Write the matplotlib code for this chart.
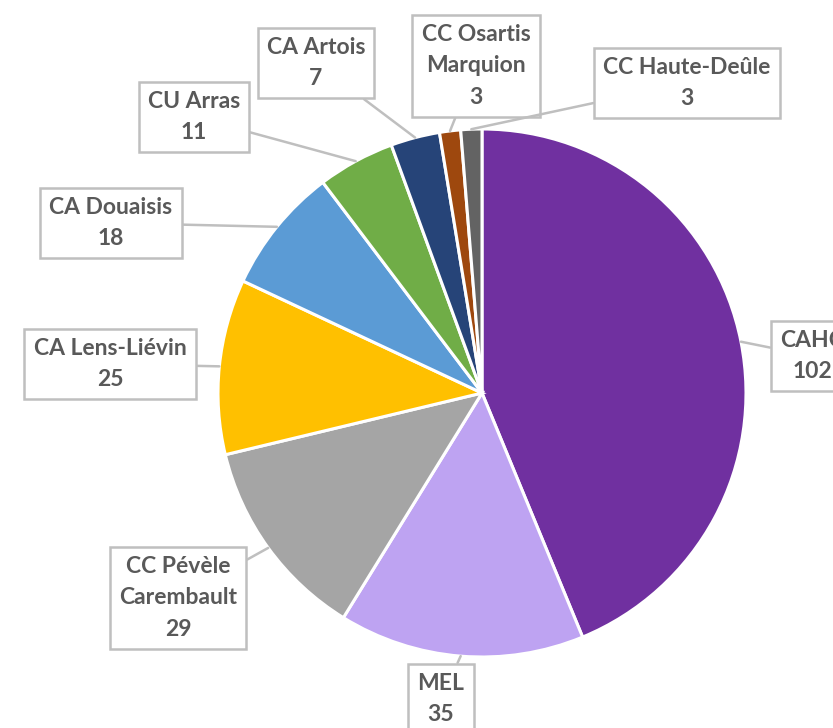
import numpy as np
import matplotlib
matplotlib.use("Agg")
import matplotlib.pyplot as plt

# données
labels = ["CAHC", "MEL", "CC Pévèle\nCarembault", "CA Lens-Liévin", "CA Douaisis",
          "CU Arras", "CA Artois", "CC Osartis\nMarquion", "CC Haute-Deûle"]
values = [102, 35, 29, 25, 18, 11, 7, 3, 3]
colors = ["#7030A0", "#BEA3F2", "#A5A5A5", "#FFC000", "#5B9BD5",
          "#70AD47", "#264478", "#9E480E", "#636363"]

# position des étiquettes (pixels, origine en haut à gauche)
label_pos = [(812, 356), (441, 699), (178, 598), (110, 364), (111, 223),
             (194, 117), (316, 63), (476, 66), (687, 83)]

W, H = 833, 728
plt.rcParams['font.family'] = ['Lato', 'DejaVu Sans']

fig = plt.figure(figsize=(W / 100, H / 100), dpi=100)
ax = fig.add_axes([0, 0, 1, 1])

cx, cy, r = 482, H - 393, 264
wedges, _ = ax.pie(values, colors=colors, startangle=90, counterclock=False,
                   center=(cx, cy), radius=r, frame=True,
                   wedgeprops=dict(edgecolor='white', linewidth=2.2))
ax.set_xlim(0, W)
ax.set_ylim(0, H)
ax.set_aspect('equal')
ax.axis('off')

for w, lab, v, (px, py) in zip(wedges, labels, values, label_pos):
    mid = np.deg2rad((w.theta1 + w.theta2) / 2)
    xy = (cx + r * np.cos(mid), cy + r * np.sin(mid))
    ax.annotate(f"{lab}\n{v}", xy=xy, xytext=(px, H - py),
                ha='center', va='center', fontsize=16.5, fontweight='bold',
                color='#595959', linespacing=1.6, annotation_clip=False,
                bbox=dict(boxstyle='square,pad=0.4', fc='white', ec='#BFBFBF', lw=1.8),
                arrowprops=dict(arrowstyle='-', color='#BFBFBF', lw=1.8,
                                shrinkA=0, shrinkB=0))

fig.savefig("out.png", dpi=100)
